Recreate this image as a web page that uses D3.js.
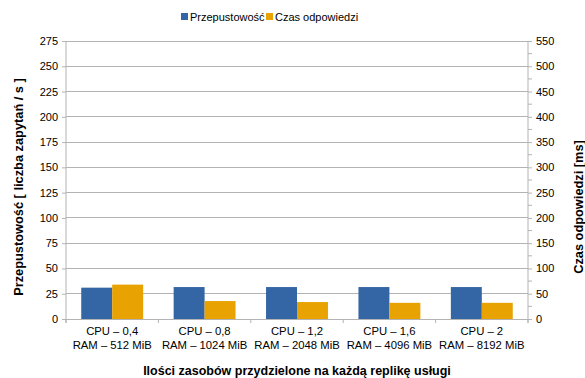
<!DOCTYPE html>
<html><head><meta charset="utf-8">
<script src="https://cdn.jsdelivr.net/npm/d3@7"></script>
<style>body{margin:0;background:#fff}svg{display:block;font-family:"Liberation Sans",Arial,sans-serif}</style>
</head><body><svg id="c" width="585" height="378"></svg>
<script>
const categories = [["CPU – 0,4","RAM – 512 MiB"],["CPU – 0,8","RAM – 1024 MiB"],["CPU – 1,2","RAM – 2048 MiB"],["CPU – 1,6","RAM – 4096 MiB"],["CPU – 2","RAM – 8192 MiB"]];
const throughput = [31, 31.6, 31.6, 31.6, 31.6];
const responseTime = [68, 35.5, 33.5, 32, 32];
const leftTicks = [0,25,50,75,100,125,150,175,200,225,250,275];
const rightTicks = [0,50,100,150,200,250,300,350,400,450,500,550];
const rightMinor = [25,75,125,175,225,275,325,375,425,475,525];
const seriesNames = ["Przepustowość","Czas odpowiedzi"];
const colors = ["#3465a4","#e8a202"];

const svg = d3.select("#c");
const L=66, R=528, T=41, B=319;
const x = d3.scaleBand().domain(d3.range(categories.length)).range([L,R]).paddingInner(0.33).paddingOuter(0.165);
const yL = d3.scaleLinear().domain([0,275]).range([B,T]);
const yR = d3.scaleLinear().domain([0,550]).range([B,T]);
const grid="#b3b3b3";

svg.append("g").selectAll("line").data(leftTicks.slice(1)).join("line")
  .attr("x1",L).attr("x2",R).attr("y1",d=>yL(d)).attr("y2",d=>yL(d)).attr("stroke",grid).attr("shape-rendering","crispEdges");

const bw = x.bandwidth()/2;
svg.append("g").selectAll("rect").data(throughput).join("rect")
  .attr("x",(d,i)=>x(i)).attr("width",bw).attr("y",d=>yL(d)).attr("height",d=>B-yL(d)).attr("fill",colors[0]);
svg.append("g").selectAll("rect").data(responseTime).join("rect")
  .attr("x",(d,i)=>x(i)+bw).attr("width",bw).attr("y",d=>yR(d)).attr("height",d=>B-yR(d)).attr("fill",colors[1]);

const gl = svg.append("g").attr("transform",`translate(${L},0)`)
  .call(d3.axisLeft(yL).tickValues(leftTicks).tickSize(4).tickPadding(4));
gl.selectAll("line,path").attr("stroke",grid);
gl.select(".domain").attr("d",`M0,${T}V${B+4}`);
gl.selectAll("text").attr("font-size",11).attr("fill","#000").style("font-family","Liberation Sans, Arial, sans-serif");

const gr = svg.append("g").attr("transform",`translate(${R},0)`)
  .call(d3.axisRight(yR).tickValues(rightTicks).tickSize(4).tickPadding(4));
gr.selectAll("line,path").attr("stroke",grid);
gr.select(".domain").attr("d",`M0,${T}V${B+4}`);
gr.selectAll("text").attr("font-size",11).attr("fill","#000").style("font-family","Liberation Sans, Arial, sans-serif");
gr.selectAll(".minor").data(rightMinor).join("line").attr("class","minor")
  .attr("x1",0).attr("x2",4).attr("y1",d=>yR(d)).attr("y2",d=>yR(d)).attr("stroke",grid);

const bounds = d3.range(categories.length+1).map(i=>L+(R-L)*i/categories.length);
svg.append("line").attr("x1",L).attr("x2",R).attr("y1",B).attr("y2",B).attr("stroke",grid).attr("shape-rendering","crispEdges");
svg.append("g").selectAll("line").data(bounds).join("line")
  .attr("x1",d=>d).attr("x2",d=>d).attr("y1",B).attr("y2",B+4).attr("stroke",grid);
const xl = svg.append("g").selectAll("text").data(categories).join("text")
  .attr("x",(d,i)=>x(i)+x.bandwidth()/2).attr("y",335).attr("text-anchor","middle").attr("font-size",11.3);
xl.append("tspan").attr("x",(d,i)=>x(i)+x.bandwidth()/2).attr("dy",0).text(d=>d[0]);
xl.append("tspan").attr("x",(d,i)=>x(i)+x.bandwidth()/2).attr("dy",13.5).text(d=>d[1]);

svg.append("text").attr("x",297).attr("y",375).attr("text-anchor","middle").attr("font-size",12.5).attr("font-weight","bold")
  .text("Ilości zasobów przydzielone na każdą replikę usługi");
svg.append("text").attr("transform",`translate(23,187) rotate(-90)`).attr("text-anchor","middle").attr("font-size",12.8).attr("font-weight","bold")
  .text("Przepustowość [ liczba zapytań / s ]");
svg.append("text").attr("transform",`translate(583,207) rotate(-90)`).attr("text-anchor","middle").attr("font-size",12.8).attr("font-weight","bold")
  .text("Czas odpowiedzi [ms]");

const lg = svg.append("g");
const items=[{x:181,name:seriesNames[0],c:colors[0]},{x:266,name:seriesNames[1],c:colors[1]}];
items.forEach(it=>{
  lg.append("rect").attr("x",it.x).attr("y",13).attr("width",7).attr("height",7).attr("fill",it.c);
  lg.append("text").attr("x",it.x+9).attr("y",20.5).attr("font-size",11).text(it.name);
});
</script></body></html>
